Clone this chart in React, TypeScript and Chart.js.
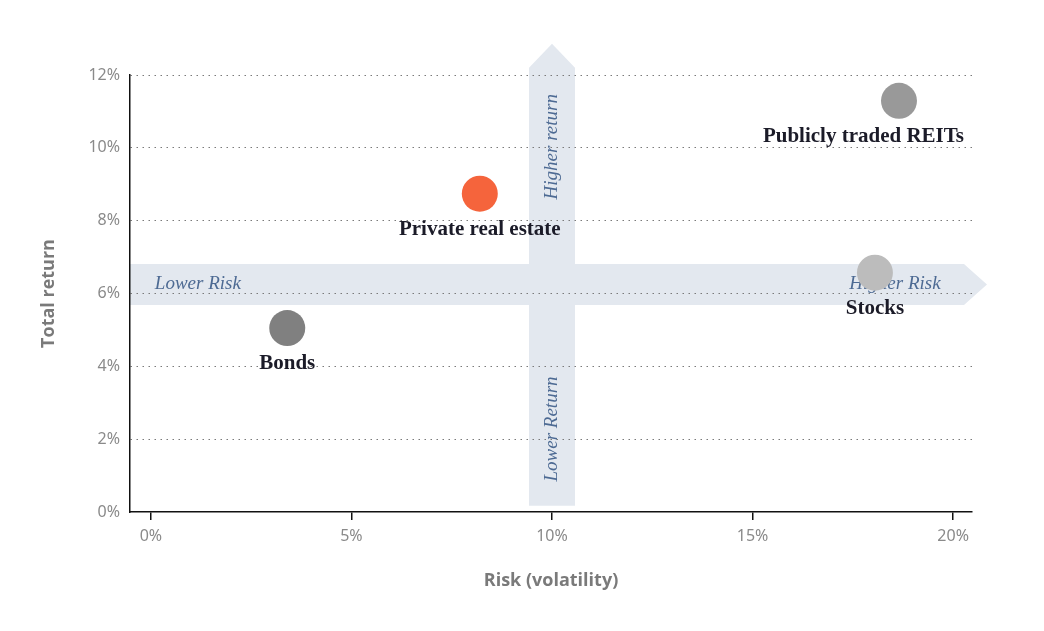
import React, { useEffect, useRef } from "react";
import { Chart, registerables } from "chart.js";

Chart.register(...registerables);

// ---- data ----
const assets = ["Bonds", "Private real estate", "Publicly traded REITs", "Stocks"];
const riskValues = [3.4, 8.2, 18.65, 18.05];
const returnValues = [5.05, 8.74, 11.29, 6.57];
const pointColors = ["#808080", "#f5643c", "#999999", "#bcbcbc"];
const xTickValues = [0, 5, 10, 15, 20];
const yTickValues = [0, 2, 4, 6, 8, 10, 12];
const hArrowLabels = ["Lower Risk", "Higher Risk"];
const vArrowLabels = ["Higher return", "Lower Return"];

// arrow annotations in data coordinates
const H_ARROW = { y: 6.25, end: 20.27, lowLabelX: 0.1, highLabelX: 18.55 };
const V_ARROW = { x: 10, bottom: 0.17, top: 12.2, highLabelY: 10.03, lowLabelY: 2.28 };

const BAND = "#e3e8ef";
const BAND_TEXT = "#4d6a93";
const LABEL_FONT = "bold 21px 'Liberation Serif', serif";
const BAND_FONT = "italic 19px 'Liberation Serif', serif";
const TICK_COLOR = "#8a8a8a";
const TITLE_COLOR = "#7a7a7a";

const arrowsPlugin = {
  id: "arrows",
  beforeDraw(chart: any) {
    const { ctx, scales, chartArea } = chart;
    const x = scales.x;
    const y = scales.y;
    ctx.save();
    ctx.fillStyle = BAND;
    // horizontal arrow
    const yc = y.getPixelForValue(H_ARROW.y);
    const hh = 20.5;
    const left = chartArea.left;
    const right = x.getPixelForValue(H_ARROW.end);
    const tip = right + 23;
    ctx.beginPath();
    ctx.moveTo(left, yc - hh);
    ctx.lineTo(right, yc - hh);
    ctx.lineTo(tip, yc);
    ctx.lineTo(right, yc + hh);
    ctx.lineTo(left, yc + hh);
    ctx.closePath();
    ctx.fill();
    // vertical arrow
    const xc = x.getPixelForValue(V_ARROW.x);
    const hw = 23;
    const bottom = y.getPixelForValue(V_ARROW.bottom);
    const top = y.getPixelForValue(V_ARROW.top);
    const vtip = top - 24;
    ctx.beginPath();
    ctx.moveTo(xc - hw, bottom);
    ctx.lineTo(xc - hw, top);
    ctx.lineTo(xc, vtip);
    ctx.lineTo(xc + hw, top);
    ctx.lineTo(xc + hw, bottom);
    ctx.closePath();
    ctx.fill();
    ctx.restore();
  },
  beforeDatasetsDraw(chart: any) {
    const { ctx, scales } = chart;
    const x = scales.x;
    const y = scales.y;
    ctx.save();
    ctx.fillStyle = BAND_TEXT;
    ctx.font = BAND_FONT;
    ctx.textBaseline = "middle";
    const yc = y.getPixelForValue(H_ARROW.y);
    ctx.textAlign = "left";
    ctx.fillText(hArrowLabels[0], x.getPixelForValue(H_ARROW.lowLabelX), yc);
    ctx.textAlign = "center";
    ctx.fillText(hArrowLabels[1], x.getPixelForValue(H_ARROW.highLabelX), yc);
    const xc = x.getPixelForValue(V_ARROW.x);
    const vl: [string, number][] = [
      [vArrowLabels[0], V_ARROW.highLabelY],
      [vArrowLabels[1], V_ARROW.lowLabelY],
    ];
    vl.forEach(([t, v]) => {
      ctx.save();
      ctx.translate(xc, y.getPixelForValue(v));
      ctx.rotate(-Math.PI / 2);
      ctx.textAlign = "center";
      ctx.fillText(t, 0, 0);
      ctx.restore();
    });
    ctx.restore();
  },
  afterDatasetsDraw(chart: any) {
    const { ctx, chartArea } = chart;
    const meta = chart.getDatasetMeta(0);
    ctx.save();
    ctx.font = LABEL_FONT;
    ctx.fillStyle = "#1b1b28";
    ctx.textAlign = "center";
    ctx.textBaseline = "middle";
    meta.data.forEach((pt: any, i: number) => {
      const text = assets[i];
      const w = ctx.measureText(text).width;
      let cx = pt.x;
      const maxRight = chartArea.right - 8;
      if (cx + w / 2 > maxRight) cx = maxRight - w / 2;
      ctx.fillText(text, cx, pt.y + 35.5);
    });
    ctx.restore();
  },
};

export default function App() {
  const ref = useRef<HTMLCanvasElement | null>(null);

  useEffect(() => {
    if (!ref.current) return;
    const chart = new Chart(ref.current, {
      type: "scatter",
      data: {
        datasets: [
          {
            label: "Assets",
            data: riskValues.map((r, i) => ({ x: r, y: returnValues[i] })),
            backgroundColor: pointColors,
            borderWidth: 0,
            pointRadius: 18,
            pointHoverRadius: 18,
          },
        ],
      },
      options: {
        responsive: false,
        animation: false,
        events: [],
        layout: { padding: { left: 30, right: 72, top: 75, bottom: 20 } },
        plugins: {
          legend: { display: false },
          tooltip: { enabled: false },
        },
        scales: {
          x: {
            type: "linear",
            min: -0.52,
            max: 20.47,
            afterBuildTicks: (s: any) => {
              s.ticks = xTickValues.map((v) => ({ value: v }));
            },
            afterFit: (s: any) => {
              s.height = 99;
            },
            border: { display: true, color: "#111", width: 1.5 },
            grid: {
              drawOnChartArea: false,
              drawTicks: true,
              tickLength: 8,
              color: "#111",
              lineWidth: 1.5,
            },
            ticks: {
              padding: 7,
              color: TICK_COLOR,
              font: { family: "'Noto Sans', sans-serif", size: 16 },
              callback: (v: any) => `${v}%`,
            },
            title: {
              display: true,
              text: "Risk (volatility)",
              color: TITLE_COLOR,
              font: { family: "'Open Sans', sans-serif", size: 18, weight: "bold" },
              padding: { top: 0, bottom: 19 },
            },
          },
          y: {
            type: "linear",
            min: 0,
            max: 12,
            afterBuildTicks: (s: any) => {
              s.ticks = yTickValues.map((v) => ({ value: v }));
            },
            afterFit: (s: any) => {
              s.width = 100;
            },
            border: { display: true, color: "#111", width: 1.5, dash: [1.5, 4.5] },
            grid: {
              drawTicks: false,
              color: (c: any) => (c.tick && c.tick.value === 0 ? "rgba(0,0,0,0)" : "#7a7a7a"),
              lineWidth: 1,
            },
            ticks: {
              padding: 10,
              color: TICK_COLOR,
              font: { family: "'Noto Sans', sans-serif", size: 16 },
              callback: (v: any) => `${v}%`,
            },
            title: {
              display: true,
              text: "Total return",
              color: TITLE_COLOR,
              font: { family: "'Open Sans', sans-serif", size: 18, weight: "bold" },
              padding: { top: 8, bottom: 0 },
            },
          },
        },
      },
      plugins: [arrowsPlugin],
    } as any);
    return () => chart.destroy();
  }, []);

  return (
    <div style={{ position: "absolute", left: 0, top: 0, width: 1044, height: 631, background: "#fff" }}>
      <canvas ref={ref} width={1044} height={631} style={{ width: 1044, height: 631 }} />
    </div>
  );
}
